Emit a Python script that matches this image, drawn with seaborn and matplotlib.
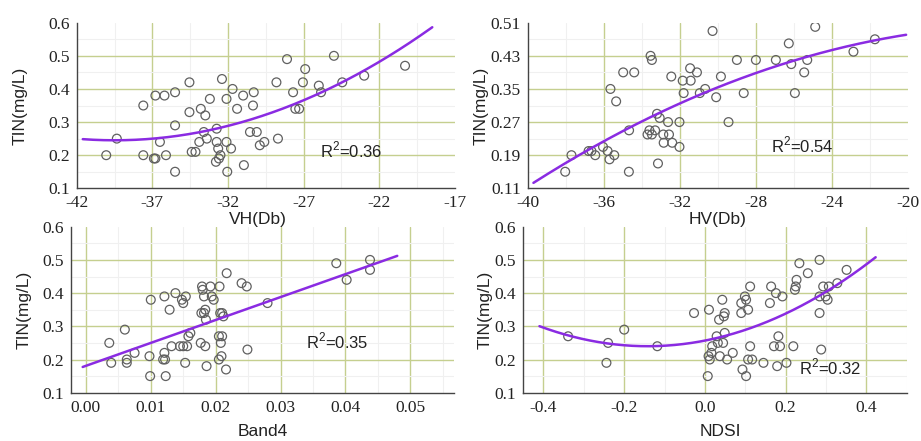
import numpy as np
import matplotlib
matplotlib.use('Agg')
import matplotlib.pyplot as plt
import seaborn as sns
from matplotlib.ticker import AutoMinorLocator

# VH backscatter vs TIN
vh = [-40.05, -39.35, -37.6, -37.6, -36.9, -36.8, -36.8, -36.5, -36.2, -36.1, -35.5, -35.5, -35.5,
      -34.55, -34.55, -34.4, -34.15, -33.9, -33.8, -33.6, -33.5, -33.4, -33.2, -32.8, -32.75, -32.75,
      -32.65, -32.6, -32.5, -32.4, -32.1, -32.1, -32.05, -31.8, -31.7, -31.4, -31.0, -30.95, -30.55,
      -30.35, -30.3, -30.1, -29.9, -29.6, -28.8, -28.7, -28.1, -27.7, -27.55, -27.3, -27.05, -26.9,
      -26.0, -25.85, -25.0, -24.45, -23.0, -20.3]
tin_vh = [0.20, 0.25, 0.20, 0.35, 0.19, 0.19, 0.38, 0.24, 0.38, 0.20, 0.39, 0.29, 0.15,
          0.42, 0.33, 0.21, 0.21, 0.24, 0.34, 0.27, 0.32, 0.25, 0.37, 0.18, 0.28, 0.24,
          0.22, 0.19, 0.20, 0.43, 0.37, 0.24, 0.15, 0.22, 0.40, 0.34, 0.38, 0.17, 0.27,
          0.35, 0.39, 0.27, 0.23, 0.24, 0.42, 0.25, 0.49, 0.39, 0.34, 0.34, 0.42, 0.46,
          0.41, 0.39, 0.50, 0.42, 0.44, 0.47]

# HV backscatter vs TIN
hv = [-38.03, -37.7, -36.8, -36.65, -36.45, -36.04, -35.8, -35.7, -35.65, -35.45, -35.35, -34.98,
      -34.67, -34.68, -34.4, -33.7, -33.6, -33.54, -33.47, -33.47, -33.3, -33.2, -33.15, -33.06,
      -32.87, -32.85, -32.62, -32.57, -32.45, -32.4, -32.02, -32.02, -31.85, -31.8, -31.46, -31.43,
      -31.1, -30.95, -30.67, -30.28, -30.09, -29.84, -29.44, -29.0, -28.64, -28.0, -26.95, -26.27,
      -26.14, -25.95, -25.46, -25.3, -24.88, -22.87, -21.74]
tin_hv = [0.15, 0.19, 0.20, 0.20, 0.19, 0.21, 0.20, 0.18, 0.35, 0.19, 0.32, 0.39,
          0.25, 0.15, 0.39, 0.24, 0.25, 0.43, 0.42, 0.24, 0.25, 0.29, 0.17, 0.28,
          0.24, 0.22, 0.27, 0.24, 0.38, 0.22, 0.27, 0.21, 0.37, 0.34, 0.40, 0.37,
          0.39, 0.34, 0.35, 0.49, 0.33, 0.38, 0.27, 0.42, 0.34, 0.42, 0.42, 0.46,
          0.41, 0.34, 0.39, 0.42, 0.50, 0.44, 0.47]

# Band4 reflectance vs TIN
band4 = [0.0036, 0.0039, 0.0060, 0.0063, 0.0063, 0.0075, 0.0098, 0.0099, 0.0100, 0.0121,
         0.0121, 0.0119, 0.0122, 0.0123, 0.0129, 0.0132, 0.0138, 0.0145, 0.0150, 0.0148,
         0.0150, 0.0153, 0.0154, 0.0156, 0.0158, 0.0161, 0.0177, 0.0179, 0.0180, 0.0178,
         0.0182, 0.0182, 0.0184, 0.0184, 0.0185, 0.0186, 0.0192, 0.0194, 0.0197, 0.0205,
         0.0206, 0.0205, 0.0208, 0.0207, 0.0210, 0.0210, 0.0209, 0.0212, 0.0216, 0.0217,
         0.0240, 0.0248, 0.0249, 0.0280, 0.0386, 0.0402, 0.0438, 0.0438]
tin_band4 = [0.25, 0.19, 0.29, 0.20, 0.19, 0.22, 0.21, 0.15, 0.38, 0.39,
             0.22, 0.20, 0.20, 0.15, 0.35, 0.24, 0.40, 0.24, 0.24, 0.38,
             0.37, 0.19, 0.39, 0.24, 0.27, 0.28, 0.25, 0.42, 0.41, 0.34,
             0.34, 0.39, 0.35, 0.24, 0.32, 0.18, 0.42, 0.39, 0.38, 0.20,
             0.42, 0.27, 0.25, 0.34, 0.34, 0.27, 0.21, 0.33, 0.17, 0.46,
             0.43, 0.42, 0.23, 0.37, 0.49, 0.44, 0.50, 0.47]

# NDSI vs TIN
ndsi = [-0.339, -0.240, -0.244, -0.200, -0.118, -0.027, 0.010, 0.007, 0.009, 0.012,
        0.016, 0.018, 0.029, 0.032, 0.035, 0.037, 0.043, 0.045, 0.047, 0.049,
        0.049, 0.055, 0.069, 0.090, 0.090, 0.093, 0.099, 0.102, 0.102, 0.107,
        0.107, 0.112, 0.112, 0.117, 0.145, 0.161, 0.164, 0.171, 0.176, 0.179,
        0.182, 0.186, 0.192, 0.202, 0.219, 0.223, 0.225, 0.227, 0.234, 0.255,
        0.284, 0.284, 0.284, 0.288, 0.293, 0.299, 0.304, 0.307, 0.328, 0.351]
tin_ndsi = [0.27, 0.25, 0.19, 0.29, 0.24, 0.34, 0.35, 0.15, 0.21, 0.20,
            0.22, 0.24, 0.27, 0.25, 0.32, 0.21, 0.38, 0.25, 0.33, 0.34,
            0.28, 0.20, 0.22, 0.37, 0.34, 0.17, 0.39, 0.38, 0.15, 0.35,
            0.20, 0.42, 0.24, 0.20, 0.19, 0.37, 0.42, 0.24, 0.40, 0.18,
            0.27, 0.24, 0.39, 0.19, 0.24, 0.41, 0.42, 0.44, 0.49, 0.46,
            0.50, 0.39, 0.34, 0.23, 0.42, 0.39, 0.38, 0.42, 0.43, 0.47]

# fitted curves (polynomial coefficients, highest power first) and their x range
fit_vh = [0.000774, 0.061146, 1.45263]
fit_vh_range = [-41.6, -18.5]
fit_hv = [-0.00056, -0.01524, 0.40076]
fit_hv_range = [-39.7, -20.1]
fit_band4 = [6.9, 0.181]
fit_band4_range = [-0.0005, 0.048]
fit_ndsi = [0.8395, 0.2384, 0.257]
fit_ndsi_range = [-0.41, 0.423]

r2_labels = ['R$^2$=0.36', 'R$^2$=0.54', 'R$^2$=0.35', 'R$^2$=0.32']

# tick values and labels
vh_ticks = [-42, -37, -32, -27, -22, -17]
hv_ticks = [-40, -36, -32, -28, -24, -20]
band4_ticks = [0.00, 0.01, 0.02, 0.03, 0.04, 0.05]
ndsi_ticks = [-0.4, -0.2, 0.0, 0.2, 0.4]
tin_ticks = [0.1, 0.2, 0.3, 0.4, 0.5, 0.6]
tin_hv_ticks = [0.11, 0.19, 0.27, 0.35, 0.43, 0.51]

sns.set_style('white')
plt.rcParams['font.family'] = ['Liberation Sans', 'DejaVu Sans']
plt.rcParams['font.serif'] = ['Liberation Serif', 'DejaVu Serif']
plt.rcParams['mathtext.fontset'] = 'custom'
plt.rcParams['mathtext.rm'] = 'Liberation Sans'

fig = plt.figure(figsize=(9.21, 4.41), dpi=100)

panels = [
    # x, y, fit, fit range, xticks, xfmt, yticks, yfmt, xlim, ylim, xlabel, axes rect, r2 pos, ylab x, xlab pos
    (vh, tin_vh, fit_vh, fit_vh_range, vh_ticks, '{:.0f}', tin_ticks, '{:.1f}', (-42, -17), (0.1, 0.6),
     'VH(Db)', [0.0833, 0.573, 0.4107, 0.3755], (-25.9, 0.215), -0.129, (0.48, -0.143)),
    (hv, tin_hv, fit_hv, fit_hv_range, hv_ticks, '{:.0f}', tin_hv_ticks, '{:.2f}', (-40, -20), (0.11, 0.51),
     'HV(Db)', [0.573, 0.573, 0.4129, 0.3755], (-27.2, 0.215), -0.102, (0.5, -0.143)),
    (band4, tin_band4, fit_band4, fit_band4_range, band4_ticks, '{:.2f}', tin_ticks, '{:.1f}', (-0.0023, 0.0568), (0.1, 0.6),
     'Band4', [0.0771, 0.1095, 0.4162, 0.3764], (0.0339, 0.254), -0.102, (0.50, -0.189)),
    (ndsi, tin_ndsi, fit_ndsi, fit_ndsi_range, ndsi_ticks, '{:.1f}', tin_ticks, '{:.1f}', (-0.45, 0.5), (0.1, 0.6),
     'NDSI', [0.5682, 0.1095, 0.4163, 0.3764], (0.233, 0.178), -0.079, (0.513, -0.189)),
]

for i, (x, y, fit, frange, xt, xfmt, yt, yfmt, xlim, ylim, xlabel, rect, r2pos, ylx, xlpos) in enumerate(panels):
    ax = fig.add_axes(rect)
    ax.patch.set_alpha(0)

    # scatter of samples as open circles
    sns.scatterplot(x=x, y=y, ax=ax, s=40, facecolors='none', edgecolor='#606060', linewidth=0.9, zorder=3)

    # fitted curve
    xs = np.linspace(frange[0], frange[1], 200)
    sns.lineplot(x=xs, y=np.polyval(fit, xs), ax=ax, color='#8a2be2', linewidth=1.8, zorder=4)

    ax.set_xlim(xlim)
    ax.set_ylim(ylim)
    ax.set_xticks(xt, [xfmt.format(v) for v in xt])
    ax.set_yticks(yt, [yfmt.format(v) for v in yt])
    ax.xaxis.set_minor_locator(AutoMinorLocator(2))
    ax.yaxis.set_minor_locator(AutoMinorLocator(2))
    # tick labels in a Times-like serif face
    ax.tick_params(which='both', direction='in', color='#444444', width=0.9,
                   labelfontfamily='serif', labelsize=12.5, labelcolor='#222222')
    ax.tick_params(which='major', length=4, pad=5)
    ax.tick_params(which='minor', length=2.5)

    # grid: olive major lines, faint minor lines
    ax.grid(which='major', color='#c5cf8f', linewidth=1.0, zorder=0)
    ax.grid(which='minor', color='#f0f0f0', linewidth=0.8, zorder=0)
    ax.set_axisbelow(True)
    for t in ax.xaxis.get_major_ticks():
        if np.isclose(t.get_loc(), xlim[0]) or np.isclose(t.get_loc(), xlim[1]):
            t.gridline.set_visible(False)
    for t in ax.yaxis.get_major_ticks():
        if np.isclose(t.get_loc(), ylim[0]) or np.isclose(t.get_loc(), ylim[1]):
            t.gridline.set_visible(False)

    for side in ['top', 'right']:
        ax.spines[side].set_visible(False)
    for side in ['left', 'bottom']:
        ax.spines[side].set_color('#444444')
        ax.spines[side].set_linewidth(1.0)

    ax.set_xlabel(xlabel, fontsize=12.5, color='#222222')
    ax.set_ylabel('TIN(mg/L)', fontsize=12.5, color='#222222')
    ax.xaxis.set_label_coords(xlpos[0], xlpos[1])
    ax.yaxis.set_label_coords(ylx, 0.5)

    ax.text(r2pos[0], r2pos[1], r2_labels[i], fontsize=12, ha='left', va='center', color='#222222', zorder=5)

plt.savefig('out.png', dpi=100)
